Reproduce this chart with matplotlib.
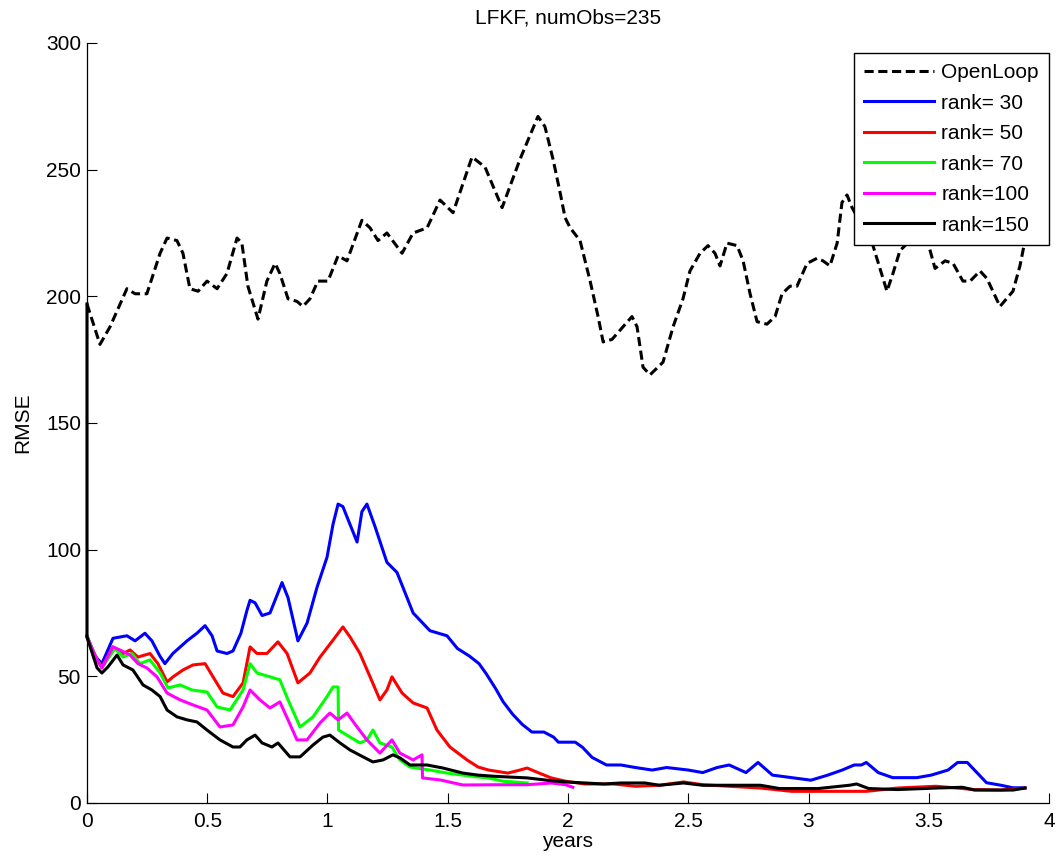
import matplotlib
matplotlib.use("Agg")
import matplotlib.pyplot as plt

plt.rcParams['font.family'] = ['Liberation Sans', 'DejaVu Sans']

# ---- data -------------------------------------------------------------
title = "LFKF, numObs=235"
x_label = "years"
y_label = "RMSE"
x_ticks = [0, 0.5, 1, 1.5, 2, 2.5, 3, 3.5, 4]
x_tick_labels = ["0", "0.5", "1", "1.5", "2", "2.5", "3", "3.5", "4"]
y_ticks = [0, 50, 100, 150, 200, 250, 300]
series_labels = ["OpenLoop", "rank= 30", "rank= 50", "rank= 70", "rank=100", "rank=150"]

openloop_t = [0.000, 0.054, 0.096, 0.166, 0.200,
              0.249, 0.304, 0.333, 0.374, 0.399,
              0.428, 0.462, 0.499, 0.541, 0.582,
              0.624, 0.644, 0.669, 0.711, 0.748,
              0.782, 0.802, 0.836, 0.873, 0.898,
              0.927, 0.960, 1.002, 1.044, 1.081,
              1.143, 1.177, 1.210, 1.247, 1.310,
              1.356, 1.414, 1.468, 1.522, 1.601,
              1.655, 1.726, 1.800, 1.875, 1.904,
              1.938, 1.967, 1.988, 2.009, 2.050,
              2.092, 2.125, 2.146, 2.183, 2.229,
              2.266, 2.287, 2.312, 2.341, 2.395,
              2.437, 2.478, 2.507, 2.549, 2.582,
              2.611, 2.632, 2.661, 2.703, 2.728,
              2.757, 2.786, 2.827, 2.861, 2.890,
              2.923, 2.952, 2.994, 3.035, 3.060,
              3.089, 3.119, 3.139, 3.160, 3.181,
              3.222, 3.268, 3.326, 3.351, 3.380,
              3.401, 3.443, 3.497, 3.526, 3.568,
              3.601, 3.642, 3.672, 3.713, 3.742,
              3.796, 3.850, 3.879, 3.900, 3.909]
openloop_v = [197, 181, 188, 203, 201,
              201, 217, 223, 222, 217,
              203, 202, 206, 203, 209,
              223, 221, 204, 191, 206,
              213, 209, 199, 198, 196,
              199, 206, 206, 216, 214,
              230, 227, 222, 225, 217,
              225, 227, 238, 233, 255,
              251, 235, 254, 271, 267,
              254, 241, 231, 227, 222,
              206, 192, 182, 183, 188,
              192, 188, 172, 169, 174,
              188, 199, 210, 217, 220,
              217, 212, 221, 220, 214,
              201, 190, 189, 192, 201,
              204, 204, 213, 215, 214,
              212, 221, 237, 240, 235,
              228, 220, 202, 209, 218,
              220, 224, 221, 211, 214,
              213, 206, 206, 210, 207,
              196, 202, 212, 222, 226]

rank30_t = [0.000, 0.033, 0.062, 0.108,
            0.166, 0.200, 0.241, 0.270, 0.303,
            0.324, 0.357, 0.416, 0.457, 0.491,
            0.520, 0.541, 0.582, 0.607, 0.640,
            0.665, 0.678, 0.699, 0.728, 0.761,
            0.811, 0.836, 0.877, 0.915, 0.956,
            0.998, 1.023, 1.044, 1.064, 1.085,
            1.123, 1.143, 1.164, 1.198, 1.247,
            1.289, 1.356, 1.426, 1.497, 1.540,
            1.590, 1.630, 1.660, 1.700, 1.730,
            1.770, 1.810, 1.850, 1.900, 1.940,
            1.960, 2.030, 2.060, 2.100, 2.160,
            2.220, 2.280, 2.350, 2.410, 2.500,
            2.560, 2.620, 2.670, 2.740, 2.790,
            2.850, 2.930, 3.010, 3.080, 3.140,
            3.190, 3.220, 3.240, 3.290, 3.350,
            3.450, 3.510, 3.580, 3.620, 3.660,
            3.690, 3.740, 3.800, 3.850, 3.900]
rank30_v = [66, 58, 55, 65,
            66, 64, 67, 64, 58,
            55, 59, 64, 67, 70,
            66, 60, 59, 60, 67,
            76, 80, 79, 74, 75,
            87, 81, 64, 71, 85,
            97, 110, 118, 117, 112,
            103, 115, 118, 109, 95,
            91, 75, 68, 66, 61,
            58, 55, 51, 45, 40,
            35, 31, 28, 28, 26,
            24, 24, 22, 18, 15,
            15, 14, 13, 14, 13,
            12, 14, 15, 12, 16,
            11, 10, 9, 11, 13,
            15, 15, 16, 12, 10,
            10, 11, 13, 16, 16,
            13, 8, 7, 6, 6]

rank50_t = [0.000, 0.042, 0.062, 0.108,
            0.150, 0.179, 0.212, 0.262, 0.295,
            0.333, 0.358, 0.399, 0.441, 0.491,
            0.524, 0.565, 0.607, 0.649, 0.678,
            0.707, 0.748, 0.794, 0.832, 0.877,
            0.927, 0.969, 1.023, 1.064, 1.094,
            1.135, 1.177, 1.218, 1.247, 1.268,
            1.310, 1.356, 1.414, 1.455, 1.509,
            1.580, 1.626, 1.670, 1.750, 1.800,
            1.830, 1.880, 1.930, 1.990, 2.070,
            2.190, 2.280, 2.380, 2.480, 2.560,
            2.670, 2.800, 2.930, 3.040, 3.160,
            3.240, 3.370, 3.530, 3.690, 3.800,
            3.900]
rank50_v = [65.5, 56.5, 53.7, 61.6,
            59, 60.4, 57.6, 59, 55,
            47.8, 49.8, 52.5, 54.5, 55,
            49.8, 43.4, 42, 47.4, 61.6,
            59, 59, 63.6, 59, 47.4,
            51.3, 57.6, 64.3, 69.5, 65.5,
            59, 49.8, 40.7, 44.6, 49.8,
            43.4, 39.5, 37.5, 28.8, 22.1,
            17, 14.2, 13, 11.8, 13,
            13.8, 11.8, 9.9, 8.6, 7.5,
            7.5, 6.6, 7, 8.3, 7.2,
            6.6, 5.9, 4.6, 4.6, 4.6,
            4.6, 5.9, 6.6, 5.3, 5.1,
            5.9]

rank70_t = [0.000, 0.042, 0.062, 0.116,
            0.150, 0.187, 0.220, 0.262, 0.304,
            0.337, 0.387, 0.437, 0.499, 0.541,
            0.595, 0.649, 0.678, 0.707, 0.761,
            0.802, 0.836, 0.886, 0.940, 0.998,
            1.023, 1.044, 1.046, 1.094, 1.135,
            1.164, 1.189, 1.218, 1.268, 1.301,
            1.343, 1.426, 1.497, 1.622, 1.670,
            1.730, 1.830]
rank70_v = [65.5, 56.5, 53.3, 61,
            57.6, 59, 55, 56.5, 51.3,
            45.4, 46.6, 44.6, 43.8, 37.9,
            36.7, 44.6, 55, 51.3, 49.8,
            48.6, 40.7, 30, 34, 42,
            45.8, 45.8, 28.8, 26, 23.7,
            24.9, 28.8, 23.7, 22.1, 17,
            14.2, 13, 11.8, 10.3, 9.9,
            8.6, 7.9]

rank100_t = [0.000, 0.042, 0.062, 0.108,
             0.137, 0.179, 0.212, 0.249, 0.291,
             0.333, 0.387, 0.441, 0.499, 0.553,
             0.607, 0.649, 0.678, 0.719, 0.761,
             0.802, 0.836, 0.873, 0.915, 0.969,
             1.010, 1.044, 1.081, 1.123, 1.164,
             1.218, 1.268, 1.301, 1.356, 1.393,
             1.395, 1.468, 1.563, 1.700, 1.830,
             1.930, 1.990, 2.020]
rank100_v = [65.5, 56.5, 53.3, 61.6,
             60.4, 58.4, 55, 53.3, 49.8,
             43.4, 40.7, 38.7, 36.7, 30,
             30.8, 37.9, 44.6, 40.7, 37.5,
             39.9, 32.8, 24.9, 24.9, 31.6,
             35.5, 32.8, 35.5, 30, 24.9,
             19.7, 24.9, 19.7, 17, 19,
             9.9, 9.1, 7.1, 7.2, 7.2,
             7.9, 7.2, 6.2]

rank150_t = [0.000, 0.000, 0.042, 0.062, 0.087,
             0.125, 0.150, 0.191, 0.233, 0.270,
             0.304, 0.333, 0.374, 0.416, 0.457,
             0.499, 0.553, 0.607, 0.636, 0.665,
             0.699, 0.728, 0.769, 0.794, 0.844,
             0.886, 0.940, 0.981, 1.010, 1.052,
             1.094, 1.148, 1.189, 1.231, 1.272,
             1.301, 1.343, 1.414, 1.480, 1.563,
             1.626, 1.700, 1.830, 1.930, 1.990,
             2.150, 2.220, 2.320, 2.380, 2.480,
             2.560, 2.800, 2.880, 3.040, 3.170,
             3.200, 3.250, 3.370, 3.530, 3.640,
             3.690, 3.850, 3.900]
rank150_v = [197, 65.5, 53.3, 51.3, 53.7,
             58.4, 54.5, 52.5, 46.6, 44.6,
             42, 36.7, 34, 32.8, 32,
             28.8, 24.9, 22.1, 22.1, 24.9,
             26.8, 23.7, 22.1, 23.7, 18.2,
             18.2, 22.9, 26, 26.8, 23.7,
             20.9, 18.2, 16.2, 17, 19,
             17.8, 15, 15, 13.8, 11.8,
             11, 10.5, 9.9, 8.8, 8.3,
             7.5, 7.9, 7.9, 7, 7.9,
             7, 7, 5.7, 5.7, 7,
             7.5, 5.7, 5.3, 5.9, 6.2,
             5.1, 5.1, 5.9]

# ---- figure -----------------------------------------------------------
fs = 15
fig = plt.figure(figsize=(10.62, 8.68), dpi=100)
ax = fig.add_axes([0.0819, 0.0749, 0.9059, 0.8756])

lw = 2.2
ax.plot(openloop_t, openloop_v, color='black', linestyle=(0, (3.0, 1.5)),
        linewidth=lw, label=series_labels[0], clip_on=False)
ax.plot(rank30_t, rank30_v, color='#0000ff', linewidth=lw, label=series_labels[1],
        clip_on=False)
ax.plot(rank50_t, rank50_v, color='#ff0000', linewidth=lw, label=series_labels[2],
        clip_on=False)
ax.plot(rank70_t, rank70_v, color='#00ff00', linewidth=lw, label=series_labels[3],
        clip_on=False)
ax.plot(rank100_t, rank100_v, color='#ff00ff', linewidth=lw, label=series_labels[4],
        clip_on=False)
ax.plot(rank150_t, rank150_v, color='black', linewidth=lw, label=series_labels[5],
        clip_on=False)

ax.set_xlim(0, 4)
ax.set_ylim(0, 300)
ax.set_xticks(x_ticks)
ax.set_xticklabels(x_tick_labels)
ax.set_yticks(y_ticks)
ax.tick_params(direction='in', length=7, width=0.8, labelsize=fs)
ax.tick_params(axis='x', pad=6.5)
ax.tick_params(axis='y', pad=4.3)

ax.spines['top'].set_visible(False)
ax.spines['right'].set_visible(False)
for s in ('left', 'bottom'):
    ax.spines[s].set_linewidth(0.9)

ax.set_title(title, fontsize=fs, pad=14)
ax.set_xlabel(x_label, fontsize=fs, labelpad=0.5)
ax.set_ylabel(y_label, fontsize=fs, labelpad=9.5)

leg = ax.legend(loc='upper right', bbox_to_anchor=(1.0, 0.987), borderaxespad=0,
                fontsize=fs, fancybox=False, framealpha=1, edgecolor='black',
                handlelength=3.35, handletextpad=0.35, labelspacing=0.55,
                borderpad=0.5)
leg.get_frame().set_linewidth(1.0)
leg.set_zorder(5)

fig.savefig('out.png', dpi=100, facecolor='white')
